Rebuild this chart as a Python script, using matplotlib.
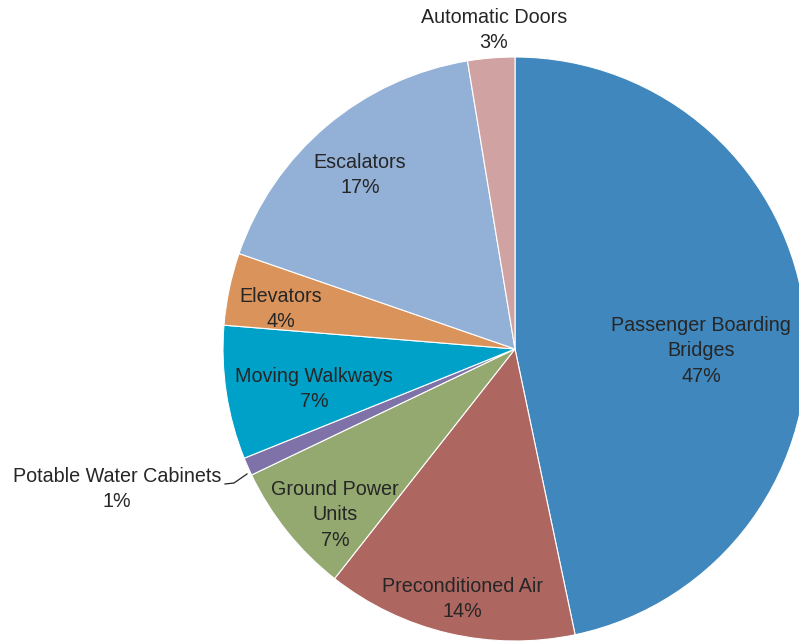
import matplotlib
matplotlib.use('Agg')
import matplotlib.pyplot as plt

plt.rcParams['font.family'] = ['Liberation Sans', 'DejaVu Sans']

# share of equipment, clockwise from the top
categories = ['Passenger Boarding\nBridges', 'Preconditioned Air', 'Ground Power\nUnits',
              'Potable Water Cabinets', 'Moving Walkways', 'Elevators', 'Escalators',
              'Automatic Doors']
shares = [46.7, 13.9, 7.3, 1.0, 7.4, 4.0, 17.1, 2.6]
colors = ['#3f87bd', '#ad6660', '#93a970', '#7f72a8', '#00a1c8', '#da935b', '#93b1d6', '#d0a2a1']

# label centres in pixels (x from left, y from top)
label_pos = [(701, 351), (462, 599), (335, 515), (117, 489),
             (314, 389), (281, 309), (360, 175), (494, 30)]

W, H = 799, 641
fig = plt.figure(figsize=(W / 100, H / 100), dpi=100)
ax = fig.add_axes([0, 0, 1, 1])

cx, cy, r = 515, H - 349, 292
ax.pie(shares, colors=colors, startangle=90, counterclock=False,
       center=(cx, cy), radius=r, frame=True,
       wedgeprops=dict(edgecolor='white', linewidth=0.8))
ax.set_xlim(0, W)
ax.set_ylim(0, H)
ax.set_aspect('equal')
ax.axis('off')

total = sum(shares)
for name, val, (x, y) in zip(categories, shares, label_pos):
    pct = round(val / total * 100)
    ax.text(x, H - y, f'{name}\n{pct}%', ha='center', va='center',
            fontsize=14.2, color='#262626', linespacing=1.45)

# leader line for the tiny slice
ax.plot([225, 234, 247], [H - 484, H - 483, H - 474], color='#262626', linewidth=0.9)

fig.savefig('out.png', dpi=100)
